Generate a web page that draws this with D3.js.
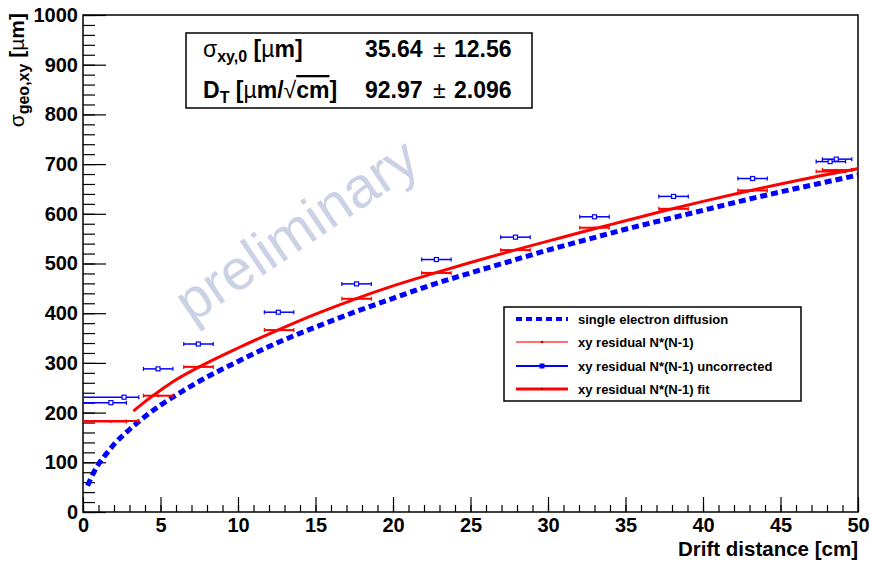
<!DOCTYPE html>
<html>
<head>
<meta charset="utf-8">
<script src="https://cdn.jsdelivr.net/npm/d3@7"></script>
<style>
  body { margin: 0; background: #fff; }
  svg { display: block; font-family: "Liberation Sans", Arial, Helvetica, sans-serif; }
</style>
</head>
<body>
<svg id="chart" width="870" height="564"></svg>
<script>
// measured points (x centre, x error low/high, y)
const ptX    = [1.8, 2.65, 4.84, 7.44, 12.6, 17.65, 22.8, 27.9, 33.0, 38.1, 43.2, 48.2, 48.6];
const ptXlo  = [0, 0, 3.9, 6.5, 11.7, 16.7, 21.85, 26.95, 32.05, 37.15, 42.25, 47.3, 47.7];
const ptXhi  = [2.8, 3.6, 5.8, 8.4, 13.6, 18.6, 23.75, 28.85, 33.95, 39.05, 44.15, 49.2, 49.6];
const yUncorr = [220, 231, 288, 338, 402, 459, 508, 553, 594, 635, 671, 705, 710];
const yResid  = [182, 183, 234, 292, 366, 429, 481, 527, 572, 610, 647, 685, 688];

// single electron diffusion (dashed blue)
const diffX = [0.3, 0.7, 1, 1.5, 2, 3, 4, 5, 6, 7.5, 10, 12.5, 15, 17.5, 20, 22.5, 25, 27.5, 30, 32.5, 35, 37.5, 40, 42.5, 45, 47.5, 50];
const diffY = [53, 80, 96, 117, 136, 166, 192, 215, 235, 263, 303, 340, 372, 402, 430, 457, 481, 504, 527, 548, 569, 588, 607, 626, 644, 661, 678];

// fit curve (solid red)
const fitX = [3.25, 4, 5, 6, 7.5, 10, 12.5, 15, 17.5, 20, 22.5, 25, 27.5, 30, 32.5, 35, 37.5, 40, 42.5, 45, 47.5, 50];
const fitY = [203, 222, 245, 266, 292, 330, 365, 398, 428, 455, 479, 502, 524, 545, 566, 586, 606, 625, 643, 660, 676, 691];

const legendLabels = ["single electron diffusion", "xy residual N*(N-1)", "xy residual N*(N-1) uncorrected", "xy residual N*(N-1) fit"];

const svg = d3.select("#chart");
const mLeft = 83, mRight = 858, mTop = 15, mBottom = 512;

const x = d3.scaleLinear().domain([0, 50]).range([mLeft, mRight]);
const y = d3.scaleLinear().domain([0, 1000]).range([mBottom, mTop]);

//watermark
svg.append("text")
  .attr("transform", "translate(307,246) rotate(-34)")
  .attr("text-anchor", "middle")
  .attr("font-size", 57)
  .attr("fill", "#cbd2e5")
  .text("preliminary");

// axes - minor ticks first
svg.append("g")
  .attr("transform", `translate(${mLeft},0)`)
  .call(d3.axisLeft(y).tickValues(d3.range(0, 1001, 20)).tickSizeInner(-12).tickSizeOuter(0).tickFormat(""))
  .call(g => g.select(".domain").remove());
svg.append("g")
  .attr("transform", `translate(${mLeft},0)`)
  .call(d3.axisLeft(y).tickValues(d3.range(0, 1001, 100)).tickSizeInner(-23).tickSizeOuter(0).tickPadding(5).tickFormat(d3.format("d")))
  .call(g => g.select(".domain").remove())
  .call(g => g.selectAll("text").attr("font-size", 20).attr("font-weight", "bold").attr("font-family", null).attr("fill", "#000"));

svg.append("g")
  .attr("transform", `translate(0,${mBottom})`)
  .call(d3.axisBottom(x).tickValues(d3.range(0, 51, 1)).tickSizeInner(-7).tickSizeOuter(0).tickFormat(""))
  .call(g => g.select(".domain").remove());
svg.append("g")
  .attr("transform", `translate(0,${mBottom})`)
  .call(d3.axisBottom(x).tickValues(d3.range(0, 51, 5)).tickSizeInner(-15).tickSizeOuter(0).tickPadding(6).tickFormat(d3.format("d")))
  .call(g => g.select(".domain").remove())
  .call(g => g.selectAll("text").attr("font-size", 20).attr("font-weight", "bold").attr("font-family", null).attr("fill", "#000"));
svg.selectAll(".tick line").attr("stroke", "#000").attr("stroke-width", 1.2);

// frame
svg.append("rect")
  .attr("x", mLeft).attr("y", mTop)
  .attr("width", mRight - mLeft).attr("height", mBottom - mTop)
  .attr("fill", "none").attr("stroke", "#000").attr("stroke-width", 1.5);

// axis titles
svg.append("text")
  .attr("x", mRight).attr("y", 556)
  .attr("text-anchor", "end")
  .attr("font-size", 20.5).attr("font-weight", "bold")
  .text("Drift distance [cm]");

const yt = svg.append("text")
  .attr("transform", "translate(24,13) rotate(-90)")
  .attr("text-anchor", "end")
  .attr("font-size", 21).attr("font-weight", "bold");
yt.append("tspan").attr("font-weight", "normal").text("σ");
yt.append("tspan").attr("font-size", 16).attr("dy", 5).text("geo,xy");
yt.append("tspan").attr("dy", -5).text(" [");
yt.append("tspan").attr("font-weight", "normal").text("µ");
yt.append("tspan").text("m]");

// curves
const line = d3.line().x(d => x(d[0])).y(d => y(d[1])).curve(d3.curveMonotoneX);

svg.append("path")
  .datum(diffX.map((v, i) => [v, diffY[i]]))
  .attr("d", line)
  .attr("fill", "none").attr("stroke", "#0000ff").attr("stroke-width", 5)
  .attr("stroke-dasharray", "7,4");

svg.append("path")
  .datum(fitX.map((v, i) => [v, fitY[i]]))
  .attr("d", line)
  .attr("fill", "none").attr("stroke", "#ff0000").attr("stroke-width", 3);

// error bar points
function drawPoints(ys, color, square) {
  const g = svg.append("g");
  ptX.forEach((px, i) => {
    const yy = y(ys[i]);
    g.append("line")
      .attr("x1", x(ptXlo[i])).attr("x2", x(ptXhi[i]))
      .attr("y1", yy).attr("y2", yy)
      .attr("stroke", color).attr("stroke-width", square ? 1.5 : 2);
    [ptXlo[i], ptXhi[i]].forEach(e => {
      if (e <= 0) return;
      g.append("line")
        .attr("x1", x(e)).attr("x2", x(e))
        .attr("y1", yy - 2).attr("y2", yy + 2)
        .attr("stroke", color).attr("stroke-width", 1.2);
    });
    if (square) {
      g.append("rect")
        .attr("x", x(px) - 2).attr("y", yy - 2)
        .attr("width", 4).attr("height", 4)
        .attr("fill", "#fff").attr("stroke", color).attr("stroke-width", 1.2);
    } else {
      g.append("circle")
        .attr("cx", x(px)).attr("cy", yy).attr("r", 1.3)
        .attr("fill", color);
    }
  });
}
drawPoints(yResid, "#ff0000", false);
drawPoints(yUncorr, "#0000ff", true);

// stats box
svg.append("rect")
  .attr("x", 186).attr("y", 33).attr("width", 346).attr("height", 75)
  .attr("fill", "#fff").attr("stroke", "#000").attr("stroke-width", 1.5);

const s1 = svg.append("text").attr("x", 203).attr("y", 57)
  .attr("font-size", 23).attr("font-weight", "bold");
s1.append("tspan").attr("font-weight", "normal").text("σ");
s1.append("tspan").attr("font-size", 16).attr("dy", 5).text("xy,0");
s1.append("tspan").attr("dy", -5).text(" [");
s1.append("tspan").attr("font-weight", "normal").text("µ");
s1.append("tspan").text("m]");

const s2 = svg.append("text").attr("x", 203).attr("y", 98)
  .attr("font-size", 23).attr("font-weight", "bold");
s2.append("tspan").text("D");
s2.append("tspan").attr("font-size", 16).attr("dy", 5).text("T");
s2.append("tspan").attr("dy", -5).text(" [");
s2.append("tspan").attr("font-weight", "normal").text("µ");
s2.append("tspan").text("m/");
s2.append("tspan").attr("font-weight", "normal").text("√");
s2.append("tspan").attr("text-decoration", "overline").text("cm");
s2.append("tspan").text("]");

[["35.64", "12.56", 57], ["92.97", "2.096", 98]].forEach(r => {
  const t = svg.append("text").attr("x", 365).attr("y", r[2])
    .attr("font-size", 23).attr("font-weight", "bold");
  t.append("tspan").text(r[0] + " ");
  t.append("tspan").attr("dx", 4).attr("font-weight", "normal").text("±");
  t.append("tspan").attr("dx", 2).text(" " + r[1]);
});

// legend
svg.append("rect")
  .attr("x", 504).attr("y", 307).attr("width", 297).attr("height", 94)
  .attr("fill", "#fff").attr("stroke", "#000").attr("stroke-width", 1.5);

const legY = [319, 342, 366, 389];
const lg = svg.append("g");
legendLabels.forEach((lab, i) => {
  lg.append("text")
    .attr("x", 578).attr("y", legY[i]).attr("dy", "0.35em")
    .attr("font-size", 13).attr("font-weight", "bold")
    .text(lab);
});
lg.append("line").attr("x1", 516).attr("x2", 568).attr("y1", legY[0]).attr("y2", legY[0])
  .attr("stroke", "#0000ff").attr("stroke-width", 4).attr("stroke-dasharray", "6,4");
lg.append("line").attr("x1", 516).attr("x2", 568).attr("y1", legY[1]).attr("y2", legY[1])
  .attr("stroke", "#ff4040").attr("stroke-width", 1.5);
lg.append("circle").attr("cx", 542).attr("cy", legY[1]).attr("r", 1.3).attr("fill", "#c00000");
lg.append("line").attr("x1", 516).attr("x2", 568).attr("y1", legY[2]).attr("y2", legY[2])
  .attr("stroke", "#0000ff").attr("stroke-width", 2);
lg.append("rect").attr("x", 539.5).attr("y", legY[2] - 2.5).attr("width", 5).attr("height", 5).attr("fill", "#0000ff");
lg.append("line").attr("x1", 516).attr("x2", 568).attr("y1", legY[3]).attr("y2", legY[3])
  .attr("stroke", "#ff0000").attr("stroke-width", 3);
lg.append("circle").attr("cx", 542).attr("cy", legY[3]).attr("r", 1).attr("fill", "#600000");
</script>
</body>
</html>
